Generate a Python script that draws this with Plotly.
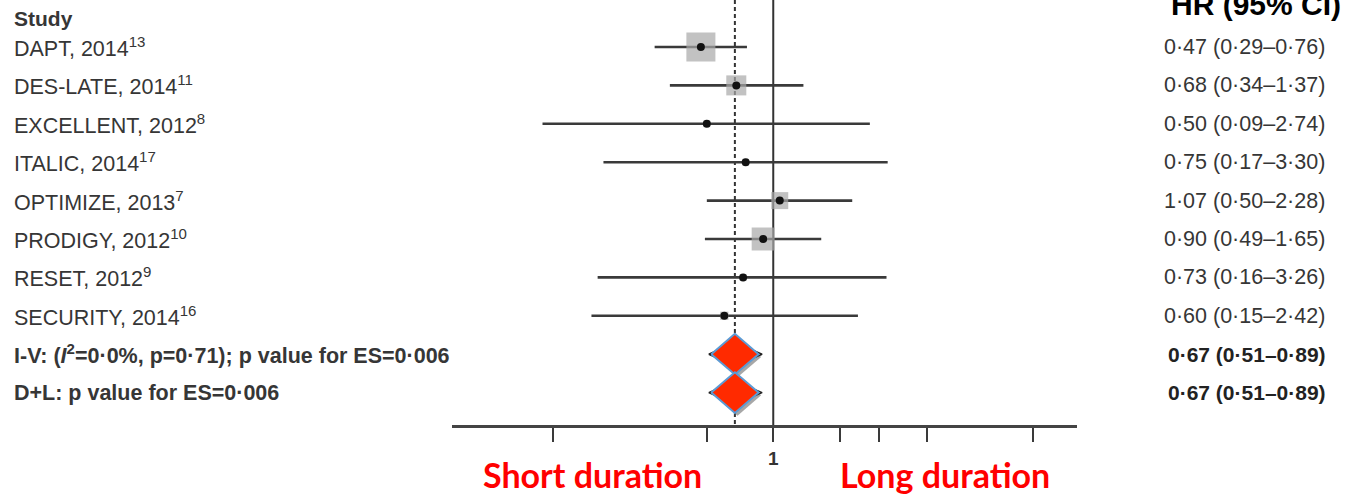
import numpy as np
import plotly.graph_objects as go

# ---- data -------------------------------------------------------------
studies = [
    "DAPT, 2014<sup>13</sup>",
    "DES-LATE, 2014<sup>11</sup>",
    "EXCELLENT, 2012<sup>8</sup>",
    "ITALIC, 2014<sup>17</sup>",
    "OPTIMIZE, 2013<sup>7</sup>",
    "PRODIGY, 2012<sup>10</sup>",
    "RESET, 2012<sup>9</sup>",
    "SECURITY, 2014<sup>16</sup>",
]
hr = [0.47, 0.68, 0.50, 0.75, 1.07, 0.90, 0.73, 0.60]
ci_lo = [0.29, 0.34, 0.09, 0.17, 0.50, 0.49, 0.16, 0.15]
ci_hi = [0.76, 1.37, 2.74, 3.30, 2.28, 1.65, 3.26, 2.42]
weights = [37.0, 17.6, 2.0, 2.0, 12.7, 23.2, 2.0, 3.0]

pooled_labels = [
    "I-V: (<i>I</i><sup>2</sup>=0·0%, p=0·71); p value for ES=0·006",
    "D+L: p value for ES=0·006",
]
pooled_hr = [0.67, 0.67]
pooled_lo = [0.51, 0.51]
pooled_hi = [0.89, 0.89]

tick_vals = [0.1, 0.5, 1, 2, 3, 5, 15]
tick_text = ["", "", "<b>1</b>", "", "", "", ""]

# ---- layout geometry --------------------------------------------------
W, H = 1345, 494
ML, MR, MT, MB = 452, 268, 0, 69
PW, PH = W - ML - MR, H - MT - MB
ROW0_PX, ROW_STEP = 47, 38.4


def paper_x(p):
    return (p - ML) / PW


def paper_y(p):
    return (MT + PH - p) / PH


def row_of_px(p):
    return 1 + (p - ROW0_PX) / ROW_STEP


def fmt(v):
    return f"{v:.2f}".replace(".", "·")


TXT = "#363636"
FONT = "Liberation Sans"
Y_TOP, Y_BOT = row_of_px(MT), row_of_px(MT + PH)

fig = go.Figure()

rows = list(range(1, len(studies) + 1))
prow = [len(studies) + 1 + i for i in range(len(pooled_hr))]

# reference lines: null effect and pooled estimate
fig.add_trace(go.Scatter(x=[1, 1], y=[Y_TOP, Y_BOT], mode="lines",
                         line=dict(color="#333333", width=2),
                         hoverinfo="skip", showlegend=False))
fig.add_trace(go.Scatter(x=[pooled_hr[0], pooled_hr[0]], y=[Y_TOP, Y_BOT], mode="lines",
                         line=dict(color="#333333", width=2, dash="4px,3px"),
                         hoverinfo="skip", showlegend=False))

# confidence intervals
cx, cy = [], []
for r, lo, hi in zip(rows, ci_lo, ci_hi):
    cx += [lo, hi, None]
    cy += [r, r, None]
fig.add_trace(go.Scatter(x=cx, y=cy, mode="lines",
                         line=dict(color="#3a3a3a", width=2.6),
                         hoverinfo="skip", showlegend=False))

# weight squares
fig.add_trace(go.Scatter(x=hr, y=rows, mode="markers",
                         marker=dict(symbol="square",
                                     size=[4.77 * np.sqrt(w) for w in weights],
                                     color="#a8a8a8", line=dict(width=0)),
                         hoverinfo="skip", showlegend=False))
# point estimates
fig.add_trace(go.Scatter(x=hr, y=rows, mode="markers",
                         marker=dict(symbol="circle", size=8, color="#111111"),
                         hoverinfo="skip", showlegend=False))

# pooled estimates: outline diamond spanning the CI, then highlighted diamond
for r, est, lo, hi in zip(prow, pooled_hr, pooled_lo, pooled_hi):
    fig.add_trace(go.Scatter(x=[lo, est, hi, est, lo], y=[r, r - 0.3, r, r + 0.3, r],
                             mode="lines", fill="toself", fillcolor="white",
                             line=dict(color="#222222", width=1.5),
                             hoverinfo="skip", showlegend=False))
for r, est in zip(prow, pooled_hr):
    hw, hh = 0.107, 0.53
    sx, sy = 10 ** 0.012, 0.07
    fig.add_trace(go.Scatter(
        x=[est * 10 ** -hw * sx, est * sx, est * 10 ** hw * sx, est * sx, est * 10 ** -hw * sx],
        y=[r + sy, r - hh + sy, r + sy, r + hh + sy, r + sy],
        mode="lines", fill="toself", fillcolor="rgba(60,60,60,0.45)",
        line=dict(color="rgba(60,60,60,0.0)", width=0),
        hoverinfo="skip", showlegend=False))
    fig.add_trace(go.Scatter(
        x=[est * 10 ** -hw, est, est * 10 ** hw, est, est * 10 ** -hw],
        y=[r, r - hh, r, r + hh, r],
        mode="lines", fill="toself", fillcolor="#ff2a00",
        line=dict(color="#5b9bd5", width=2),
        hoverinfo="skip", showlegend=False))

ann = []
ann.append(dict(text="<b>Study</b>", x=paper_x(12), y=row_of_px(18), xref="paper", yref="y",
                xanchor="left", yanchor="middle", showarrow=False,
                font=dict(family=FONT, size=21, color=TXT)))
for r, s in zip(rows, studies):
    ann.append(dict(text=s, x=paper_x(12), y=r, xref="paper", yref="y",
                    xanchor="left", yanchor="middle", showarrow=False,
                    font=dict(family=FONT, size=21.5, color=TXT)))
for r, s in zip(prow, pooled_labels):
    ann.append(dict(text=f"<b>{s}</b>", x=paper_x(12), y=r, xref="paper", yref="y",
                    xanchor="left", yanchor="middle", showarrow=False,
                    font=dict(family=FONT, size=21.5, color=TXT)))

ann.append(dict(text="<b>HR (95% CI)</b>", x=paper_x(1256), y=paper_y(5),
                xref="paper", yref="paper", xanchor="center", yanchor="middle",
                showarrow=False, font=dict(family=FONT, size=30, color="#000000")))
for r, e, lo, hi in zip(rows, hr, ci_lo, ci_hi):
    ann.append(dict(text=f"{fmt(e)} ({fmt(lo)}–{fmt(hi)})", x=paper_x(1244), y=r,
                    xref="paper", yref="y", xanchor="center", yanchor="middle",
                    showarrow=False, font=dict(family=FONT, size=21.5, color=TXT)))
for r, e, lo, hi in zip(prow, pooled_hr, pooled_lo, pooled_hi):
    ann.append(dict(text=f"<b>{fmt(e)} ({fmt(lo)}–{fmt(hi)})</b>", x=paper_x(1247), y=r,
                    xref="paper", yref="y", xanchor="center", yanchor="middle",
                    showarrow=False, font=dict(family=FONT, size=21, color="#222222")))

ann.append(dict(text="<b>Short duration</b>", x=paper_x(592), y=paper_y(474),
                xref="paper", yref="paper", xanchor="center", yanchor="middle",
                showarrow=False, font=dict(family="Lato", size=34, color="#ff0000")))
ann.append(dict(text="<b>Long duration</b>", x=paper_x(945), y=paper_y(474),
                xref="paper", yref="paper", xanchor="center", yanchor="middle",
                showarrow=False, font=dict(family="Lato", size=34, color="#ff0000")))

fig.update_layout(
    width=W, height=H,
    margin=dict(l=ML, r=MR, t=MT, b=MB),
    paper_bgcolor="white", plot_bgcolor="white",
    annotations=ann,
    xaxis=dict(type="log", range=[np.log10(0.035), np.log10(23.8)],
               tickvals=tick_vals, ticktext=tick_text,
               ticks="outside", ticklen=14, tickwidth=2, tickcolor="#3a3a3a",
               showline=True, linewidth=2.5, linecolor="#444444",
               showgrid=False, zeroline=False,
               tickfont=dict(family=FONT, size=19, color="#333333")),
    yaxis=dict(visible=False, range=[Y_BOT, Y_TOP]),
    showlegend=False,
)

fig.write_html("out.html")
